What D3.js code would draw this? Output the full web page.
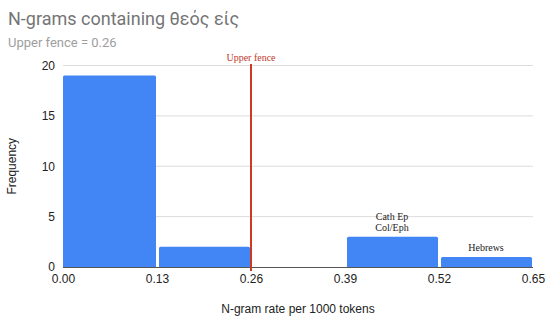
<!DOCTYPE html>
<html><head><meta charset="utf-8">
<script src="https://cdn.jsdelivr.net/npm/d3@7"></script>
<style>body{margin:0;background:#fff}svg{display:block}</style>
</head><body>
<svg id="c" width="550" height="323"></svg>
<script>
const binStarts = [0.00, 0.13, 0.26, 0.39, 0.52];
const binEnds   = [0.13, 0.26, 0.39, 0.52, 0.65];
const counts    = [19, 2, 0, 3, 1];
const xTicks = [0.00, 0.13, 0.26, 0.39, 0.52, 0.65];
const yTicks = [0, 5, 10, 15, 20];
const fenceValue = 0.26;
const annotations = [
  {x: 0.455, y: 3, lines: ["Cath Ep", "Col/Eph"]},
  {x: 0.585, y: 1, lines: ["Hebrews"]}
];

const svg = d3.select("#c");
const x = d3.scaleLinear().domain([0, 0.65]).range([63, 533]);
const y = d3.scaleLinear().domain([0, 20]).range([267, 65.5]);

svg.append("text").attr("x", 8).attr("y", 25).attr("font-family", "Roboto, Arial, sans-serif")
  .attr("font-size", 18).attr("fill", "#757575").text("N-grams containing θεός είς");
svg.append("text").attr("x", 8).attr("y", 47).attr("font-family", "Roboto, Arial, sans-serif")
  .attr("font-size", 13).attr("fill", "#9e9e9e").text("Upper fence = 0.26");

// grid
svg.append("g").selectAll("line").data(yTicks.filter(d => d > 0)).join("line")
  .attr("x1", x(0)).attr("x2", x(0.65)).attr("y1", d => y(d)).attr("y2", d => y(d))
  .attr("stroke", "#dcdcdc").attr("stroke-width", 1);

// y tick labels
const yAxis = d3.axisLeft(y).tickValues(yTicks).tickSize(0).tickPadding(8);
const gy = svg.append("g").attr("transform", `translate(${x(0)},0)`).call(yAxis);
gy.select(".domain").remove();
gy.selectAll("text").attr("font-family", "Arial, Liberation Sans, sans-serif").attr("font-size", 12).attr("fill", "#222");

// bars
const data = counts.map((c, i) => ({s: binStarts[i], e: binEnds[i], c}));
svg.append("g").selectAll("path").data(data.filter(d => d.c > 0)).join("path")
  .attr("fill", "#4285f4")
  .attr("d", d => {
    const x0 = x(d.s) + (d.s === 0 ? 0 : 2), x1 = x(d.e) - 1, y0 = y(d.c), yb = y(0), r = 1.5;
    return `M${x0},${yb}V${y0 + r}Q${x0},${y0} ${x0 + r},${y0}H${x1 - r}Q${x1},${y0} ${x1},${y0 + r}V${yb}Z`;
  });

// baseline
svg.append("line").attr("x1", x(0)).attr("x2", x(0.65)).attr("y1", y(0) + 0.5).attr("y2", y(0) + 0.5)
  .attr("stroke", "#555").attr("stroke-width", 1);

// x axis
const xAxis = d3.axisBottom(x).tickValues(xTicks).tickSize(0).tickPadding(6).tickFormat(d3.format(".2f"));
const gx = svg.append("g").attr("transform", `translate(0,${y(0) + 1})`).call(xAxis);
gx.select(".domain").remove();
gx.selectAll("text").attr("font-family", "Arial, Liberation Sans, sans-serif").attr("font-size", 12).attr("fill", "#222");

// fence line
svg.append("line").attr("x1", x(fenceValue)).attr("x2", x(fenceValue)).attr("y1", 64).attr("y2", y(0) + 4)
  .attr("stroke", "#d0391f").attr("stroke-width", 2);
svg.append("text").attr("x", x(fenceValue)).attr("y", 61).attr("text-anchor", "middle")
  .attr("font-family", "Liberation Serif, Times New Roman, serif").attr("font-size", 10).attr("fill", "#c0392b")
  .text("Upper fence");

// annotations
annotations.forEach(a => {
  const t = svg.append("text").attr("text-anchor", "middle")
    .attr("font-family", "Liberation Serif, Times New Roman, serif").attr("font-size", 10).attr("fill", "#222");
  const n = a.lines.length;
  a.lines.forEach((l, i) => {
    t.append("tspan").attr("x", x(a.x)).attr("y", y(a.y) - 6 - (n - 1 - i) * 11).text(l);
  });
});

// axis titles
svg.append("text").attr("x", x(0.325)).attr("y", 313).attr("text-anchor", "middle")
  .attr("font-family", "Arial, Liberation Sans, sans-serif").attr("font-size", 12).attr("fill", "#222")
  .text("N-gram rate per 1000 tokens");
svg.append("text").attr("transform", `translate(16,${y(10)}) rotate(-90)`).attr("text-anchor", "middle")
  .attr("font-family", "Arial, Liberation Sans, sans-serif").attr("font-size", 12).attr("fill", "#222")
  .text("Frequency");
</script>
</body></html>
